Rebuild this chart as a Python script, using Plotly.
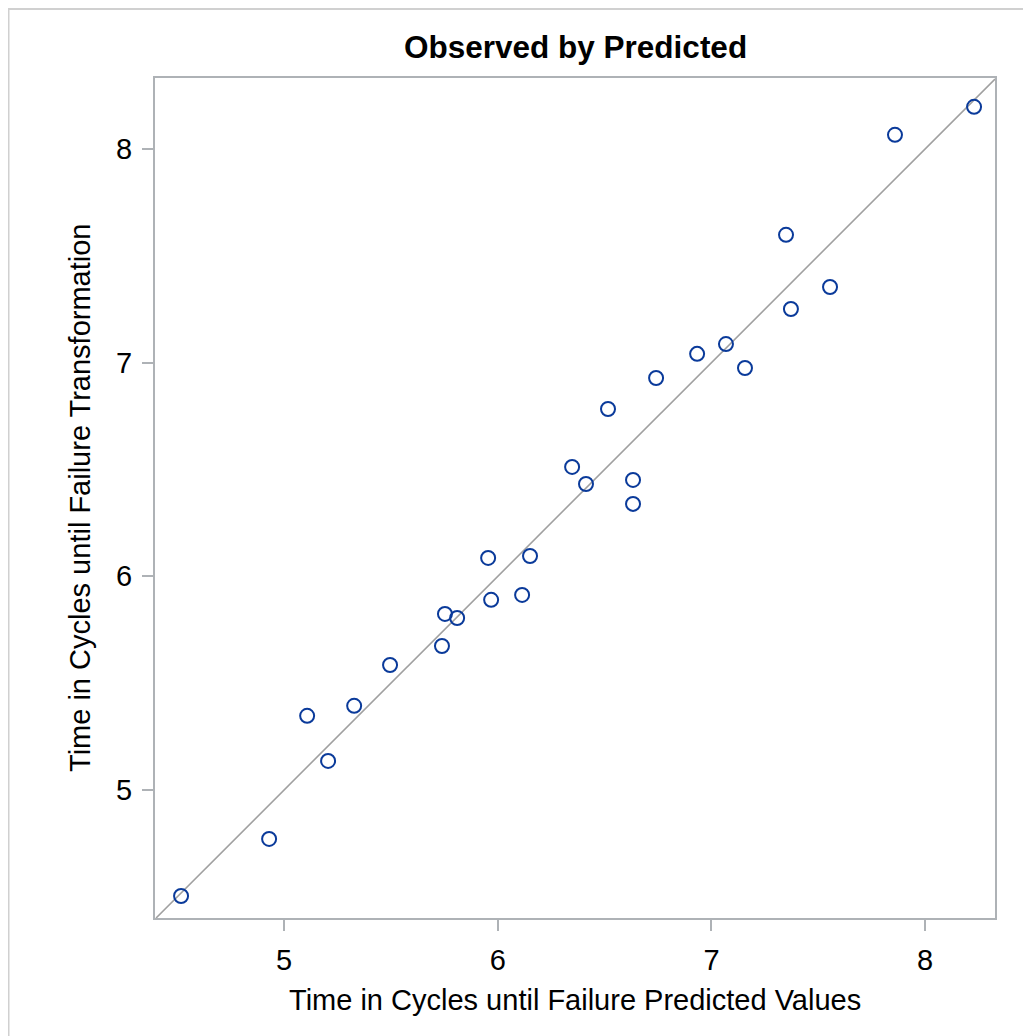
import plotly.graph_objects as go

predicted = [4.518, 4.930, 5.108, 5.206, 5.328, 5.496, 5.739, 5.753, 5.810, 5.955,
             5.969, 6.114, 6.151, 6.348, 6.413, 6.516, 6.633, 6.633, 6.741, 6.933,
             7.068, 7.157, 7.349, 7.372, 7.555, 7.859, 8.229]
observed = [4.504, 4.771, 5.347, 5.136, 5.394, 5.585, 5.674, 5.824, 5.805, 6.086,
            5.890, 5.913, 6.095, 6.512, 6.432, 6.783, 6.451, 6.339, 6.928, 7.041,
            7.087, 6.975, 7.598, 7.251, 7.354, 8.066, 8.197]
x_range = [4.396, 8.327]
y_range = [4.401, 8.332]
tick_vals = [5, 6, 7, 8]

# page is offset by the browser's 8px body margin
OFF = 8
W, H = 1031 - OFF, 1036 - OFF
ml, mr, mt, mb = 155 - OFF, 36, 78 - OFF, 118
pw, ph = W - ml - mr, H - mt - mb

def px(x):  # page pixel -> paper x
    return (x - OFF - ml) / pw

def py(y):  # page pixel -> paper y
    return (H - mb - (y - OFF)) / ph

FONT = "Liberation Sans, Arial, sans-serif"

fig = go.Figure()
lo = max(x_range[0], y_range[0])
hi = min(x_range[1], y_range[1])
fig.add_trace(go.Scatter(x=[lo, hi], y=[lo, hi], mode="lines",
                         line=dict(color="#a0a0a0", width=1.6),
                         hoverinfo="skip", showlegend=False))
fig.add_trace(go.Scatter(x=predicted, y=observed, mode="markers",
                         marker=dict(symbol="circle-open", size=14,
                                     color="#0a3a9a", line=dict(width=2, color="#0a3a9a")),
                         showlegend=False))

axis_common = dict(showgrid=False, zeroline=False, showline=True, mirror=True,
                   linecolor="#aeb2b6", linewidth=2, ticks="outside", ticklen=11,
                   tickwidth=2, tickcolor="#aeb2b6", tickvals=tick_vals,
                   tickfont=dict(size=29, color="black", family=FONT),
                   ticklabelstandoff=4)

fig.update_layout(
    width=W, height=H,
    margin=dict(l=ml, r=mr, t=mt, b=mb),
    paper_bgcolor="white", plot_bgcolor="white",
    font=dict(family=FONT, color="black"),
    xaxis=dict(range=x_range, **axis_common),
    yaxis=dict(range=y_range, **axis_common),
    annotations=[
        dict(text="<b>Observed by Predicted</b>", xref="paper", yref="paper",
             x=px(575), y=py(47), xanchor="center", yanchor="middle",
             showarrow=False, font=dict(size=31.5, color="black", family=FONT)),
        dict(text="Time in Cycles until Failure Predicted Values", xref="paper", yref="paper",
             x=px(575), y=py(1000), xanchor="center", yanchor="middle",
             showarrow=False, font=dict(size=29, color="black", family=FONT)),
        dict(text="Time in Cycles until Failure Transformation", xref="paper", yref="paper",
             x=px(80), y=py(498), xanchor="center", yanchor="middle", textangle=-90,
             showarrow=False, font=dict(size=29, color="black", family=FONT)),
    ],
    shapes=[
        dict(type="line", xref="paper", yref="paper", x0=px(7.5), x1=px(1031), y0=py(9), y1=py(9),
             line=dict(color="#d0d0d0", width=2)),
        dict(type="line", xref="paper", yref="paper", x0=px(8.5), x1=px(8.5), y0=py(8), y1=py(1036),
             line=dict(color="#d0d0d0", width=2)),
    ],
)

fig.write_html("out.html")
